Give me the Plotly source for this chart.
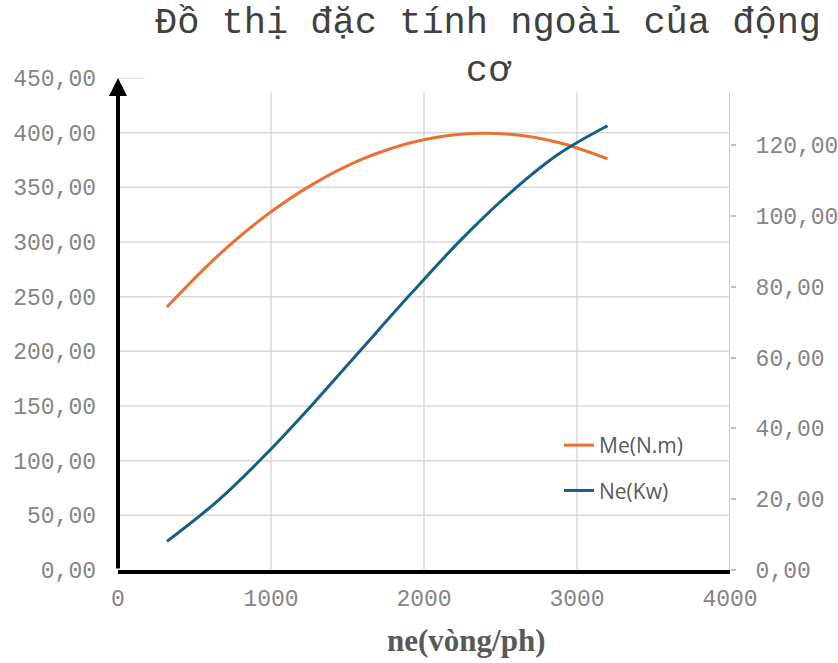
import plotly.graph_objects as go

# ---- data ----
rpm = [320, 640, 960, 1280, 1600, 1920, 2240, 2560, 2880, 3200]
me_nm = [240.6, 285.8, 323.4, 353.4, 376.0, 391.0, 398.6, 398.6, 391.0, 376.0]
ne_kw = [8.1, 19.1, 32.4, 47.2, 62.8, 78.3, 93.2, 106.4, 117.5, 125.5]

x_ticks = [0, 1000, 2000, 3000, 4000]
x_tick_text = ["0", "1000", "2000", "3000", "4000"]
y_left_ticks = [0, 50, 100, 150, 200, 250, 300, 350, 400, 450]
y_left_text = ["0,00", "50,00", "100,00", "150,00", "200,00", "250,00",
               "300,00", "350,00", "400,00", "450,00"]
y_right_ticks = [0, 20, 40, 60, 80, 100, 120]
y_right_text = ["0,00", "20,00", "40,00", "60,00", "80,00", "100,00", "120,00"]

title_text = "Đồ thị đặc tính ngoài của động<br>cơ"
x_title = "ne(vòng/ph)"
name_me = "Me(N.m)"
name_ne = "Ne(Kw)"

ORANGE = "#E97132"
BLUE = "#156082"
GRID = "#d9d9d9"
TICKC = "#858585"

W, H = 838, 663

fig = go.Figure()
fig.add_trace(go.Scatter(x=rpm, y=me_nm, name=name_me, mode="lines",
                         line=dict(color=ORANGE, width=3, shape="spline", smoothing=1.0),
                         legendgroup="a"))
fig.add_trace(go.Scatter(x=rpm, y=ne_kw, name=name_ne, mode="lines", yaxis="y2",
                         line=dict(color=BLUE, width=3, shape="spline", smoothing=1.0),
                         legendgroup="b"))

mono = "Liberation Mono"
shapes = []
for v in y_left_ticks[1:-1]:
    shapes.append(dict(type="line", xref="x", yref="y", x0=0, x1=4000, y0=v, y1=v,
                       line=dict(color=GRID, width=1.5), layer="below"))
shapes.append(dict(type="line", xref="x", yref="y", x0=0, x1=176, y0=450, y1=450,
                   line=dict(color=GRID, width=1.5), layer="below"))
for v in x_ticks[1:-1]:
    shapes.append(dict(type="line", xref="x", yref="y", x0=v, x1=v, y0=0, y1=437,
                       line=dict(color=GRID, width=1.5), layer="below"))
shapes.append(dict(type="line", xref="x", yref="y", x0=4000, x1=4000, y0=0, y1=437,
                   line=dict(color="#bfbfbf", width=1.5), layer="below"))

fig.update_layout(
    width=W, height=H,
    margin=dict(l=118, r=108, t=78, b=93),
    paper_bgcolor="white", plot_bgcolor="white",
    title=dict(text=title_text, x=488 / W, xanchor="center", xref="container",
               y=1 - 33 / H, yanchor="top", yref="container",
               font=dict(family=mono, size=37, color="#404040")),
    xaxis=dict(range=[0, 4000], tickvals=x_ticks, ticktext=x_tick_text,
               showgrid=False, zeroline=False, showline=True, linecolor="black",
               linewidth=4, ticks="", ticklabelstandoff=4, automargin=False,
               tickfont=dict(family=mono, size=23, color=TICKC)),
    yaxis=dict(range=[0, 450], tickvals=y_left_ticks, ticktext=y_left_text,
               showgrid=False, zeroline=False, showline=False, ticks="",
               ticklabelstandoff=21, automargin=False,
               tickfont=dict(family=mono, size=23, color=TICKC)),
    yaxis2=dict(range=[0, 139], tickvals=y_right_ticks, ticktext=y_right_text,
                overlaying="y", side="right", showgrid=False, zeroline=False,
                showline=False, ticks="outside", ticklen=5, tickwidth=1.5,
                tickcolor="#bfbfbf", ticklabelstandoff=15, automargin=False,
                tickfont=dict(family=mono, size=23, color=TICKC)),
    legend=dict(x=0.7206, y=0.2947, xanchor="left", yanchor="top",
                bgcolor="rgba(0,0,0,0)", tracegroupgap=15,
                font=dict(family="Open Sans", size=21, color="#595959")),
    shapes=shapes,
    annotations=[
        dict(text="<b>" + x_title + "</b>", xref="paper", yref="paper",
             x=0.569, y=-0.144, xanchor="center", yanchor="middle", showarrow=False,
             font=dict(family="Liberation Serif", size=31, color="#595959")),
        dict(x=0, y=450, ax=0, ay=0, xref="x", yref="y", axref="x", ayref="y",
             text="", showarrow=True, arrowhead=2, arrowsize=0.9, arrowwidth=4,
             arrowcolor="black"),
    ],
)

fig.write_html("out.html",
               config={"displayModeBar": False},
               post_script="document.body.style.margin='0';"
                           "document.body.style.overflow='hidden';")
